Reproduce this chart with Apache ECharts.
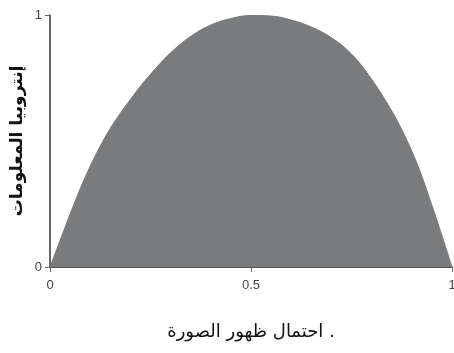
<!DOCTYPE html>
<html><head><meta charset="utf-8">
<script src="https://cdn.jsdelivr.net/npm/echarts@6/dist/echarts.min.js"></script>
<style>html,body{margin:0;padding:0;background:#fff}#c{width:454px;height:353px}</style>
</head><body><div id="c"></div>
<script>
var probability = [0, 0.025, 0.05, 0.075, 0.1, 0.125, 0.15, 0.175, 0.2, 0.225, 0.25, 0.3, 0.35, 0.4, 0.45, 0.5, 0.55, 0.6, 0.65, 0.7, 0.75, 0.8, 0.85, 0.875, 0.9, 0.925, 0.95, 0.975, 1];
var entropy = [0, 0.105, 0.21, 0.31, 0.40, 0.48, 0.55, 0.61, 0.665, 0.717, 0.765, 0.85, 0.915, 0.96, 0.986, 0.998, 0.996, 0.98, 0.952, 0.91, 0.845, 0.745, 0.62, 0.545, 0.46, 0.36, 0.245, 0.125, 0];
var xTicks = [0, 0.5, 1];
var yTicks = [0, 1];
var xTitle = 'احتمال ظهور الصورة .';
var yTitle = 'إنتروبيا المعلومات';

var chart = echarts.init(document.getElementById('c'));
chart.setOption({
  animation: false,
  grid: {left: 50, right: 2, top: 15, bottom: 86, outerBoundsMode: 'none', containLabel: false},
  xAxis: {
    type: 'value', min: 0, max: 1, interval: 0.5,
    name: xTitle, nameLocation: 'middle', nameGap: 56, nameMoveOverlap: false,
    nameTextStyle: {fontFamily: 'DejaVu Sans', fontSize: 18, color: '#111'},
    axisLine: {show: true, lineStyle: {color: '#555', width: 2}},
    axisTick: {show: true, length: 5, lineStyle: {color: '#666'}},
    axisLabel: {color: '#444', fontSize: 13, fontFamily: 'Liberation Sans', margin: 12,
      formatter: function (v) { return xTicks.indexOf(v) >= 0 ? String(v) : ''; }},
    splitLine: {show: false}
  },
  yAxis: {
    type: 'value', min: 0, max: 1, interval: 1,
    name: yTitle, nameLocation: 'middle', nameGap: 24, nameRotate: 90, nameMoveOverlap: false,
    nameTextStyle: {fontFamily: 'DejaVu Sans', fontSize: 17, color: '#111', fontWeight: 'bold'},
    axisLine: {show: true, lineStyle: {color: '#333', width: 1.5}},
    axisTick: {show: true, length: 5, lineStyle: {color: '#666'}},
    axisLabel: {color: '#444', fontSize: 13, fontFamily: 'Liberation Sans', margin: 8,
      formatter: function (v) { return yTicks.indexOf(v) >= 0 ? String(v) : ''; }},
    splitLine: {show: false}
  },
  series: [{
    type: 'line',
    data: probability.map(function (p, i) { return [p, entropy[i]]; }),
    smooth: 0.4,
    symbol: 'none',
    lineStyle: {color: '#7a7b7c', width: 1},
    areaStyle: {color: '#7a7b7c', opacity: 1}
  }]
});
</script></body></html>
